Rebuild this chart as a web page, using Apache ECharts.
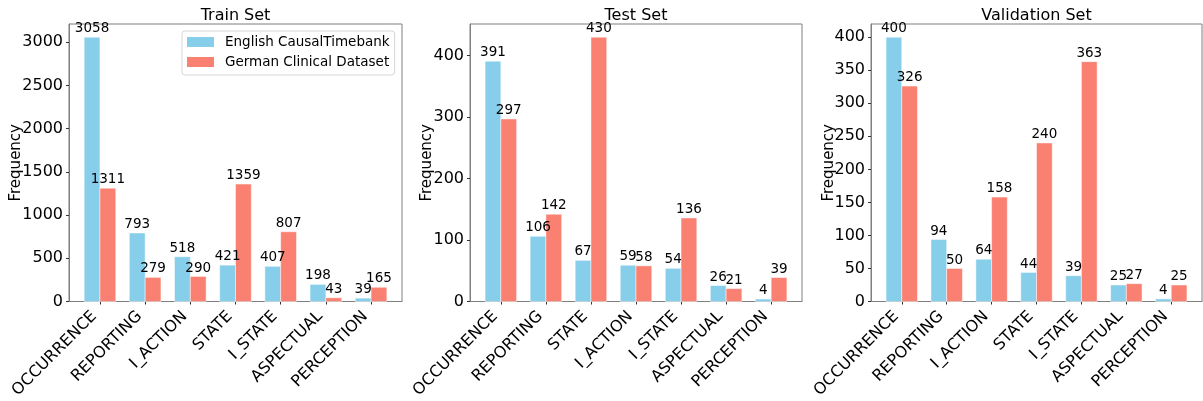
<!DOCTYPE html>
<html>
<head>
<meta charset="utf-8">
<script src="https://cdn.jsdelivr.net/npm/echarts@6/dist/echarts.min.js"></script>
<style>
  html, body { margin: 0; padding: 0; background: #ffffff; }
  #chart { width: 1203px; height: 401px; }
</style>
</head>
<body>
<div id="chart"></div>
<script>
// Event-class frequencies per split, English CausalTimebank vs. German clinical corpus
const seriesNames = ['English CausalTimebank', 'German Clinical Dataset'];

const trainCategories = ['OCCURRENCE', 'REPORTING', 'I_ACTION', 'STATE', 'I_STATE', 'ASPECTUAL', 'PERCEPTION'];
const trainEnglish = [3058, 793, 518, 421, 407, 198, 39];
const trainGerman = [1311, 279, 290, 1359, 807, 43, 165];
const trainTicks = [0, 500, 1000, 1500, 2000, 2500, 3000];

const testCategories = ['OCCURRENCE', 'REPORTING', 'STATE', 'I_ACTION', 'I_STATE', 'ASPECTUAL', 'PERCEPTION'];
const testEnglish = [391, 106, 67, 59, 54, 26, 4];
const testGerman = [297, 142, 430, 58, 136, 21, 39];
const testTicks = [0, 100, 200, 300, 400];

const validationCategories = ['OCCURRENCE', 'REPORTING', 'I_ACTION', 'STATE', 'I_STATE', 'ASPECTUAL', 'PERCEPTION'];
const validationEnglish = [400, 94, 64, 44, 39, 25, 4];
const validationGerman = [326, 50, 158, 240, 363, 27, 25];
const validationTicks = [0, 50, 100, 150, 200, 250, 300, 350, 400];

const FONT = '"DejaVu Sans", "Liberation Sans", sans-serif';
const COLORS = ['#87CEEB', '#FA8072'];
const FRAME = '#7f7f7f';
const BAR_WIDTH = 0.35;                 // in category units
const X_MIN = -0.685, X_MAX = 6.685;    // category span plus 5% side margins

const panels = [
  { title: 'Train Set', cats: trainCategories, en: trainEnglish, de: trainGerman, ticks: trainTicks, left: 69, width: 333, nameGap: 45 },
  { title: 'Test Set', cats: testCategories, en: testEnglish, de: testGerman, ticks: testTicks, left: 470, width: 332, nameGap: 35 },
  { title: 'Validation Set', cats: validationCategories, en: validationEnglish, de: validationGerman, ticks: validationTicks, left: 871, width: 331, nameGap: 34 }
];
const GRID_TOP = 24, GRID_HEIGHT = 283;
const categoryPositions = [0, 1, 2, 3, 4, 5, 6];

// Bar drawn at category index + offset, with its value written on top
function barRenderer(offset) {
  return function (params, api) {
    const x = api.value(0) + offset;
    const v = api.value(1);
    const top = api.coord([x, v]);
    const base = api.coord([x, 0]);
    const w = api.size([BAR_WIDTH, 0])[0];
    return {
      type: 'rect',
      shape: { x: top[0] - w / 2, y: top[1], width: w, height: base[1] - top[1] },
      style: { fill: api.visual('color'), stroke: 'rgba(255,255,255,0.6)', lineWidth: 0.8 },
      textContent: {
        style: { text: String(v), fill: '#000000', fontSize: 13.5, fontFamily: FONT }
      },
      textConfig: { position: 'top', distance: 1 }
    };
  };
}

const grid = [], xAxis = [], yAxis = [], series = [], title = [];

panels.forEach((p, k) => {
  grid.push({
    left: p.left, top: GRID_TOP, width: p.width, height: GRID_HEIGHT,
    show: true, borderColor: FRAME, borderWidth: 1, backgroundColor: 'transparent'
  });
  title.push({
    text: p.title, left: p.left + p.width / 2, top: 8, textAlign: 'center', padding: 0,
    textStyle: { fontSize: 16, fontWeight: 'normal', color: '#000000', fontFamily: FONT }
  });
  xAxis.push({
    type: 'value', gridIndex: k, min: X_MIN, max: X_MAX,
    splitLine: { show: false },
    axisLine: { show: true, onZero: false, lineStyle: { color: FRAME, width: 1 } },
    axisTick: { show: true, customValues: categoryPositions, length: 3, lineStyle: { color: '#333333' } },
    axisLabel: {
      customValues: categoryPositions,
      formatter: (v) => p.cats[Math.round(v)],
      rotate: 45, align: 'right', verticalAlign: 'bottom', margin: 18,
      fontSize: 16, color: '#000000', fontFamily: FONT
    }
  });
  const yMax = Math.max(...p.en, ...p.de) * 1.05;
  yAxis.push({
    type: 'value', gridIndex: k, min: 0, max: yMax,
    name: 'Frequency', nameLocation: 'middle', nameGap: p.nameGap, nameMoveOverlap: false,
    nameTextStyle: { fontSize: 15, color: '#000000', fontFamily: FONT },
    splitLine: { show: false },
    axisLine: { show: true, onZero: false, lineStyle: { color: FRAME, width: 1 } },
    axisTick: { show: true, customValues: p.ticks, length: 3, lineStyle: { color: '#333333' } },
    axisLabel: {
      customValues: p.ticks, formatter: (v) => String(v),
      fontSize: 16, margin: 6, color: '#000000', fontFamily: FONT
    }
  });
  [p.en, p.de].forEach((vals, s) => {
    series.push({
      type: 'custom', name: seriesNames[s],
      xAxisIndex: k, yAxisIndex: k,
      itemStyle: { color: COLORS[s] },
      encode: { x: 0, y: 1 },
      renderItem: barRenderer(s === 0 ? -BAR_WIDTH / 2 : BAR_WIDTH / 2),
      data: vals.map((v, i) => [i, v])
    });
  });
});

const chart = echarts.init(document.getElementById('chart'), null, { renderer: 'canvas' });
chart.setOption({
  animation: false,
  backgroundColor: '#ffffff',
  textStyle: { fontFamily: FONT },
  title: title,
  legend: {
    data: seriesNames,
    orient: 'vertical', left: 182, top: 31,
    icon: 'rect', itemWidth: 27, itemHeight: 10, itemGap: 4,
    padding: [3, 5, 5, 5],
    borderColor: '#d6d6d6', borderWidth: 1, borderRadius: 3,
    backgroundColor: 'rgba(255,255,255,0.8)',
    textStyle: { fontSize: 13.5, lineHeight: 16, color: '#000000', fontFamily: FONT, padding: [0, 0, 0, 6] }
  },
  grid: grid,
  xAxis: xAxis,
  yAxis: yAxis,
  series: series
});
</script>
</body>
</html>
